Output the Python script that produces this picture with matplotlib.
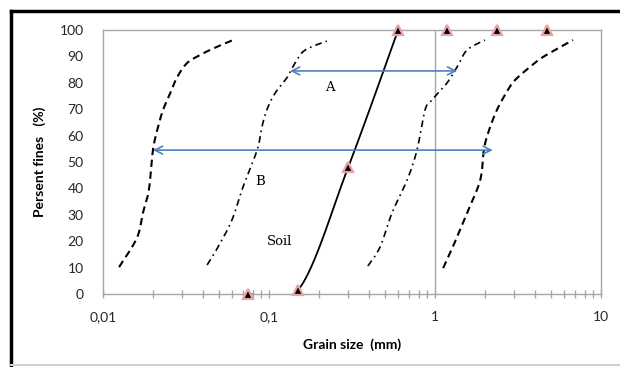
import numpy as np
import matplotlib
matplotlib.use('Agg')
import matplotlib.pyplot as plt
from matplotlib.lines import Line2D
from matplotlib.ticker import FixedLocator, LogLocator, NullFormatter

plt.rcParams['font.family'] = ['Lato', 'DejaVu Sans']

# grading envelopes (grain size mm, percent fines)
fine_dash_size = [0.0125, 0.0160, 0.0174, 0.0189, 0.0200, 0.0214, 0.0230, 0.0254, 0.0279, 0.0321, 0.0384, 0.0461, 0.0607]
fine_dash_pct = [10.2, 21.2, 30.7, 39.4, 54.5, 63.0, 69.7, 76.0, 82.0, 87.5, 90.5, 93.0, 96.2]

fine_dd_size = [0.0424, 0.0493, 0.0598, 0.0697, 0.0848, 0.0907, 0.0970, 0.1086, 0.1284, 0.1437, 0.165, 0.223]
fine_dd_pct = [11.0, 17.8, 28.0, 40.5, 54.5, 63.3, 69.7, 76.0, 82.0, 87.5, 92.4, 95.8]

coarse_dd_size = [0.394, 0.467, 0.551, 0.678, 0.779, 0.871, 0.959, 1.18, 1.36, 1.56, 2.0]
coarse_dd_pct = [10.6, 17.8, 30.7, 43.0, 54.5, 69.7, 73.5, 79.9, 86.0, 92.4, 96.2]

coarse_dash_size = [1.12, 1.28, 1.56, 1.87, 1.97, 2.09, 2.36, 2.75, 3.03, 3.73, 4.48, 6.78]
coarse_dash_pct = [9.8, 17.8, 30.7, 43.0, 54.5, 61.0, 69.7, 77.3, 81.0, 86.0, 89.8, 96.2]

# tested soil (sieve sizes)
soil_size = [0.075, 0.15, 0.3, 0.6, 1.18, 2.36, 4.75]
soil_pct = [0, 1.5, 48, 100, 100, 100, 100]

# arrows A and B
arrow_a = (0.134, 1.36, 84.5)
arrow_b = (0.0200, 2.23, 54.5)


def smooth(xs, ys, n=40):
    # excel-like smoothed line (Catmull-Rom in log-x space)
    lx = np.log10(xs)
    y = np.asarray(ys, float)
    px = np.concatenate([[lx[0]], lx, [lx[-1]]])
    py = np.concatenate([[y[0]], y, [y[-1]]])
    outx, outy = [], []
    for i in range(1, len(px) - 2):
        t = np.linspace(0, 1, n)
        h00 = 2*t**3 - 3*t**2 + 1
        h10 = t**3 - 2*t**2 + t
        h01 = -2*t**3 + 3*t**2
        h11 = t**3 - t**2
        m1x, m2x = (px[i+1]-px[i-1])/2, (px[i+2]-px[i])/2
        m1y, m2y = (py[i+1]-py[i-1])/2, (py[i+2]-py[i])/2
        outx.append(h00*px[i] + h10*m1x + h01*px[i+1] + h11*m2x)
        outy.append(h00*py[i] + h10*m1y + h01*py[i+1] + h11*m2y)
    return 10**np.concatenate(outx), np.concatenate(outy)


fig = plt.figure(figsize=(6.2, 3.67), dpi=100)
ax = fig.add_axes([0.1661, 0.1989, 0.8032, 0.7193])

ax.set_xscale('log')
ax.set_xlim(0.01, 10)
ax.set_ylim(0, 100)

ax.axvline(1, color='#a6a6a6', lw=1, zorder=1)

x, y = smooth(fine_dash_size, fine_dash_pct)
ax.plot(x, y, color='black', lw=1.5, dashes=(3.5, 2.2))
x, y = smooth(coarse_dash_size, coarse_dash_pct)
ax.plot(x, y, color='black', lw=1.5, dashes=(3.5, 2.2))
x, y = smooth(fine_dd_size, fine_dd_pct)
ax.plot(x, y, color='black', lw=1.2, dashes=(4, 2.5, 1, 2.5))
x, y = smooth(coarse_dd_size, coarse_dd_pct)
ax.plot(x, y, color='black', lw=1.2, dashes=(4, 2.5, 1, 2.5))

# soil curve drawn up to the first 100 % point
x, y = smooth(soil_size[:4], soil_pct[:4])
ax.plot(x, y, color='black', lw=1.3, zorder=3)
ax.plot(soil_size, soil_pct, ls='none', marker='^', ms=6.5, mfc='black',
        mec='#e8a4a4', mew=1.6, zorder=4, clip_on=False)

blue = '#4f81bd'
for x0, x1, yy in [arrow_a, arrow_b]:
    ax.annotate('', xy=(x1, yy), xytext=(x0, yy),
                arrowprops=dict(arrowstyle='<->', color=blue, lw=1.2,
                                shrinkA=0, shrinkB=0, mutation_scale=14))

lab = dict(fontsize=9.5, family='DejaVu Serif', ha='center', va='center')
ax.text(0.233, 78.4, 'A', **lab)
ax.text(0.088, 42.8, 'B', **lab)
ax.text(0.116, 19.7, 'Soil', **lab)

# axes styling
for s in ax.spines.values():
    s.set_color('#a6a6a6')
    s.set_linewidth(1)

ax.set_yticks(range(0, 101, 10))
ax.tick_params(axis='y', length=0, pad=14, labelsize=10, labelcolor='#262626')
ax.xaxis.set_major_locator(FixedLocator([0.01, 0.1, 1, 10]))
ax.set_xticklabels(['0,01', '0,1', '1', '10'])
ax.xaxis.set_minor_locator(LogLocator(base=10, subs=np.arange(2, 10)))
ax.xaxis.set_minor_formatter(NullFormatter())
ax.tick_params(axis='x', which='both', direction='inout', length=6, width=1,
               color='#a6a6a6', pad=9, labelsize=10, labelcolor='#262626')

ax.set_ylabel('Persent fines   (%)', fontsize=10, fontweight='bold')
ax.yaxis.set_label_coords(-0.114, 0.5)
ax.set_xlabel('Grain size  (mm)', fontsize=10, fontweight='bold')
ax.xaxis.set_label_coords(0.5, -0.167)

# outer frame
fig.add_artist(Line2D([11/620, 1], [1-11/367, 1-11/367], color='black', lw=2.5))
fig.add_artist(Line2D([11/620, 11/620], [1-11/367, 2/367], color='black', lw=2.5))
fig.add_artist(Line2D([11/620, 1], [2/367, 2/367], color='#d0d0d0', lw=1.5))

fig.savefig('out.png', dpi=100)
